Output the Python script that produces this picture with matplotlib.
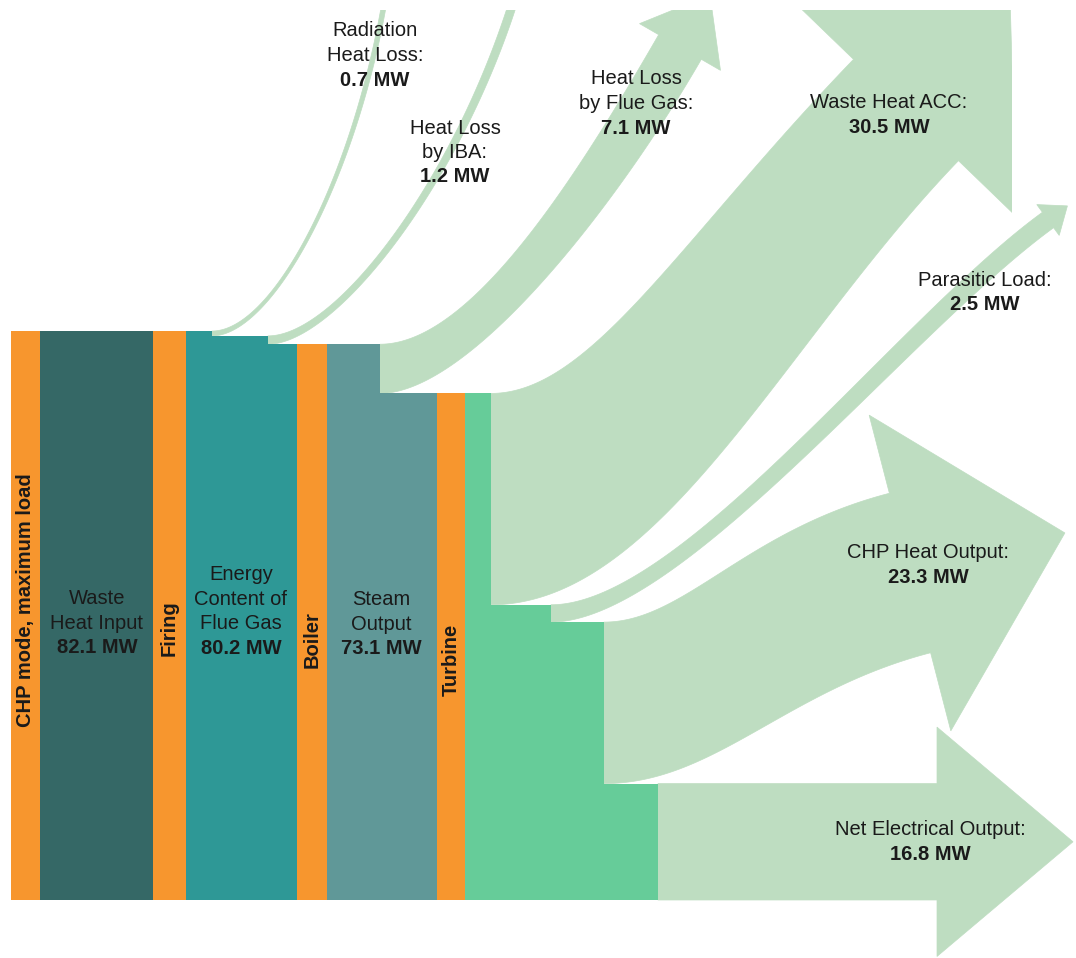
import numpy as np
import matplotlib
matplotlib.use('Agg')
import matplotlib.pyplot as plt
from matplotlib.patches import Polygon, Rectangle

plt.rcParams['font.family'] = ['Liberation Sans', 'DejaVu Sans']

# ---- data (MW) ----
MODE_LABEL = 'CHP mode, maximum load'
STAGE_LABELS = ['Waste\nHeat Input', 'Energy\nContent of\nFlue Gas', 'Steam\nOutput']
STAGE_MW = [82.1, 80.2, 73.1]
PROCESS_LABELS = ['Firing', 'Boiler', 'Turbine']
LOSS_LABELS = ['Radiation\nHeat Loss:', 'Heat Loss\nby IBA:', 'Heat Loss\nby Flue Gas:']
LOSS_MW = [0.7, 1.2, 7.1]
OUTPUT_LABELS = ['Waste Heat ACC:', 'Parasitic Load:', 'CHP Heat Output:', 'Net Electrical Output:']
OUTPUT_MW = [30.5, 2.5, 23.3, 16.8]

# ---- colours ----
ORANGE = '#F7962E'
STAGE_COLORS = ['#356866', '#2E9896', '#609898']
TURBINE_GREEN = '#66CC99'
FLOW = '#BEDDC1'
TXT = '#1A1A1A'

# ---- layout (pixel space, y down) ----
BASE = 900.0      # bottom of the columns
S = 6.93          # pixels per MW
FS = 14.5
TOP_CUT = 10      # drawing is cropped a little below the top edge

def ypx(mw):
    return BASE - np.asarray(mw) * S

MODE_X = (11, 40)
STAGE_X = [(40, 153), (186, 297), (327, 437)]
PROCESS_X = [(153, 186), (297, 327), (437, 465)]
LOSS_X = [212, 268, 380]
OUT_X = [491, 551, 604, 658]

# flow shapes: end centre, direction (deg), end-width factor, start/end control lengths,
# head width factor, head length
LOSS_SHAPE = [
    dict(end=(388, -20), ang=81.6, taper=1.0, c0=(63, 63), c1=190, head=0, hl=0),
    dict(end=(520, -20), ang=74, taper=1.0, c0=(70, 70), c1=200, head=0, hl=0),
    dict(end=(680, 47), ang=60, taper=1.0, c0=(90, 90), c1=170, head=1.9, hl=60),
]
OUT_SHAPE = [
    dict(end=(906, 110), ang=46, taper=0.69, c0=(100, 170), c1=250, head=2.1, hl=150),
    dict(end=(1048, 220), ang=36, taper=1.1, c0=(130, 130), c1=180, head=2.0, hl=24),
    dict(end=(910, 573), ang=14.5, taper=1.02, c0=(80, 110), c1=150, head=1.98, hl=160),
    dict(end=(937, None), ang=0, taper=1.0, c0=(60, 60), c1=60, head=1.97, hl=136),
]
ACC_CLIP_X = 1012


def bezier(p0, p1, p2, p3, n=120):
    t = np.linspace(0, 1, n)[:, None]
    return ((1 - t) ** 3 * p0 + 3 * (1 - t) ** 2 * t * p1
            + 3 * (1 - t) * t ** 2 * p2 + t ** 3 * p3)


def draw_flow(ax, x0, top_mw, bot_mw, shape, clip=None):
    y_top, y_bot = ypx(top_mw), ypx(bot_mw)
    ex, ey = shape['end']
    if ey is None:
        ey = (y_top + y_bot) / 2
    a = np.radians(shape['ang'])
    d = np.array([np.cos(a), -np.sin(a)])
    n = np.array([np.sin(a), np.cos(a)])
    end = np.array([ex, ey])
    w = (top_mw - bot_mw) * S * shape['taper']
    top_end = end - n * w / 2
    bot_end = end + n * w / 2
    c0t, c0b = shape['c0']
    c1 = shape['c1']
    top = bezier(np.array([x0, y_top]), np.array([x0 + c0t, y_top]), top_end - c1 * d, top_end)
    bot = bezier(np.array([x0, y_bot]), np.array([x0 + c0b, y_bot]), bot_end - c1 * d, bot_end)
    parts = [top]
    if shape['hl']:
        hw = w * shape['head']
        parts.append(np.array([end - n * hw / 2, end + d * shape['hl'], end + n * hw / 2]))
    parts.append(bot[::-1])
    patch = Polygon(np.vstack(parts), closed=True, fc=FLOW, ec=FLOW, lw=0.5, zorder=1)
    ax.add_patch(patch)
    if clip is not None:
        patch.set_clip_path(clip)


def step_column(ax, xs, tops, color):
    tops = list(tops) + [tops[-1]]
    ax.fill_between(xs, ypx(0), ypx(tops), step='post', color=color, lw=0, zorder=2)


fig = plt.figure(figsize=(10.76, 9.58), dpi=100)
ax = fig.add_axes([0, 0, 1, (958 - TOP_CUT) / 958])
ax.set_xlim(0, 1076)
ax.set_ylim(958, TOP_CUT)
ax.axis('off')

# orange process bars
step_column(ax, list(MODE_X), [STAGE_MW[0]], ORANGE)
for (xa, xb), h in zip(PROCESS_X, STAGE_MW):
    step_column(ax, [xa, xb], [h], ORANGE)

# stage columns with step-downs where losses leave
step_column(ax, list(STAGE_X[0]), [STAGE_MW[0]], STAGE_COLORS[0])
lvl1 = [STAGE_MW[0], STAGE_MW[0] - LOSS_MW[0], STAGE_MW[0] - LOSS_MW[0] - LOSS_MW[1]]
step_column(ax, [STAGE_X[1][0], LOSS_X[0], LOSS_X[1], STAGE_X[1][1]], lvl1, STAGE_COLORS[1])
lvl2 = [STAGE_MW[1], STAGE_MW[1] - LOSS_MW[2]]
step_column(ax, [STAGE_X[2][0], LOSS_X[2], STAGE_X[2][1]], lvl2, STAGE_COLORS[2])

# turbine outputs column
lvl3 = [STAGE_MW[2]] + list(STAGE_MW[2] - np.cumsum(OUTPUT_MW[:3]))
step_column(ax, [PROCESS_X[2][1]] + OUT_X, lvl3, TURBINE_GREEN)

# loss flows
top = STAGE_MW[0]
for x0, v, shape in zip(LOSS_X, LOSS_MW, LOSS_SHAPE):
    draw_flow(ax, x0, top, top - v, shape)
    top -= v

# output flows (the ACC arrow head is cropped on the right)
clip = Rectangle((0, TOP_CUT), ACC_CLIP_X, 958 - TOP_CUT, transform=ax.transData)
top = STAGE_MW[2]
for i, (x0, v, shape) in enumerate(zip(OUT_X, OUTPUT_MW, OUT_SHAPE)):
    draw_flow(ax, x0, top, top - v, shape, clip=clip if i == 0 else None)
    top -= v

# ---- labels ----
LH = 24.5


def label(x, y, text, value):
    lines = text.split('\n')
    for k, s in enumerate(lines):
        ax.text(x, y + k * LH, s, ha='center', va='center', fontsize=FS, color=TXT, zorder=5)
    ax.text(x, y + len(lines) * LH, f'{value} MW', ha='center', va='center',
            fontsize=FS, fontweight='bold', color=TXT, zorder=5)


ax.text(26, 600, MODE_LABEL, rotation=90, ha='center', va='center',
        fontsize=FS, fontweight='bold', color=TXT, zorder=5)
for (xa, xb), s, yc in zip(PROCESS_X, PROCESS_LABELS, [628, 640, 660]):
    ax.text((xa + xb) / 2, yc, s, rotation=90, ha='center', va='center',
            fontsize=FS, fontweight='bold', color=TXT, zorder=5)

STAGE_POS = [(97, 599), (241, 575), (381, 600)]
for (x, y), s, v in zip(STAGE_POS, STAGE_LABELS, STAGE_MW):
    label(x, y, s, v)

LOSS_POS = [(375, 31), (455, 128), (636, 79)]
for (x, y), s, v in zip(LOSS_POS, LOSS_LABELS, LOSS_MW):
    label(x, y, s, v)

OUT_POS = [(889, 103), (985, 280), (928, 553), (930, 830)]
for (x, y), s, v in zip(OUT_POS, OUTPUT_LABELS, OUTPUT_MW):
    label(x, y, s, v)

fig.savefig('out.png', dpi=100, facecolor='white')
